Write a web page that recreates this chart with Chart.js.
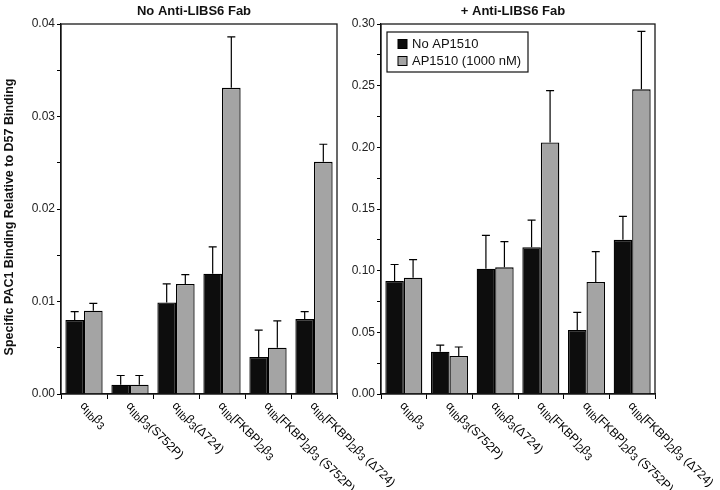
<!DOCTYPE html>
<html><head><meta charset="utf-8">
<script src="https://cdn.jsdelivr.net/npm/chart.js@4.4.1/dist/chart.umd.min.js"></script>
<style>
html,body{margin:0;padding:0;background:#fff;}
#wrap{position:relative;width:720px;height:490px;}
canvas{position:absolute;left:0;top:0;}
</style></head><body>
<div id="wrap"><canvas id="c1" width="720" height="490"></canvas><canvas id="c2" width="720" height="490"></canvas></div>
<script>
// {..} marks a subscript
const categories = ['α{IIb}β{3}', 'α{IIb}β{3}(S752P)', 'α{IIb}β{3}(Δ724)', 'α{IIb}[FKBP]{2}β{3}', 'α{IIb}[FKBP]{2}β{3} (S752P)', 'α{IIb}[FKBP]{2}β{3} (Δ724)'];
const seriesNames = ['No AP1510', 'AP1510 (1000 nM)'];
const panelTitles = ['No Anti-LIBS6 Fab', '+ Anti-LIBS6 Fab'];
const yAxisTitle = 'Specific PAC1 Binding Relative to D57 Binding';

// Left panel: No Anti-LIBS6 Fab
const noFabNoAP      = [0.0080, 0.0010, 0.0099, 0.0130, 0.0040, 0.0081];
const noFabNoAPErr   = [0.0009, 0.0010, 0.0020, 0.0029, 0.0029, 0.0008];
const noFabAP        = [0.0090, 0.0010, 0.0119, 0.0331, 0.0050, 0.0251];
const noFabAPErr     = [0.0008, 0.0010, 0.0010, 0.0055, 0.0029, 0.0019];
// Right panel: + Anti-LIBS6 Fab
const fabNoAP        = [0.0916, 0.0343, 0.1016, 0.1190, 0.0519, 0.1250];
const fabNoAPErr     = [0.0134, 0.0054, 0.0270, 0.0220, 0.0143, 0.0190];
const fabAP          = [0.0943, 0.0308, 0.1027, 0.2040, 0.0908, 0.2470];
const fabAPErr       = [0.0147, 0.0073, 0.0208, 0.0420, 0.0246, 0.0470];

const leftTicks  = {max: 0.04, step: 0.005};
const rightTicks = {max: 0.30, step: 0.025};

const FONT = '"Liberation Sans", Arial, Helvetica, sans-serif';
const COLORS = ['#0d0d0d', '#a4a4a4'];

function parseRich(s) {
  const parts = [];
  const re = /\{([^}]*)\}|([^{]+)/g;
  let m;
  while ((m = re.exec(s)) !== null) {
    if (m[1] !== undefined) parts.push({t: m[1], sub: true});
    else parts.push({t: m[2], sub: false});
  }
  return parts;
}
function plain(s) { return s.replace(/[{}]/g, ''); }

const panelPlugin = {
  id: 'panelDecor',
  afterDatasetsDraw(chart) {
    const ctx = chart.ctx;
    const y = chart.scales.y;
    // error bars
    ctx.save();
    ctx.strokeStyle = '#000';
    ctx.lineWidth = 1.2;
    chart.data.datasets.forEach((ds, di) => {
      const meta = chart.getDatasetMeta(di);
      meta.data.forEach((el, i) => {
        const top = y.getPixelForValue(ds.data[i] + ds.errors[i]);
        ctx.beginPath();
        ctx.moveTo(el.x, el.y);
        ctx.lineTo(el.x, top);
        ctx.moveTo(el.x - 4, top);
        ctx.lineTo(el.x + 4, top);
        ctx.stroke();
      });
    });
    ctx.restore();
  },
  afterDraw(chart) {
    const ctx = chart.ctx;
    const a = chart.chartArea;
    const o = chart.options.plugins.panelDecor;
    ctx.save();
    // frame
    ctx.strokeStyle = '#1a1a1a';
    ctx.lineWidth = 1.3;
    ctx.strokeRect(a.left, a.top, a.right - a.left, a.bottom - a.top);
    // panel title
    ctx.fillStyle = '#111';
    ctx.font = 'bold 13px ' + FONT;
    ctx.textAlign = 'center';
    ctx.textBaseline = 'middle';
    ctx.fillText(o.title, (a.left + a.right) / 2 - 5, 11);
    // y axis title
    if (o.yTitle) {
      ctx.save();
      ctx.translate(10, (a.top + a.bottom) / 2 + 8);
      ctx.rotate(-Math.PI / 2);
      ctx.font = 'bold 12.5px ' + FONT;
      ctx.fillStyle = '#111';
      ctx.textAlign = 'center';
      ctx.textBaseline = 'middle';
      ctx.fillText(o.yTitle, 0, 0);
      ctx.restore();
    }
    // rotated category labels
    const xs = chart.scales.x;
    chart.data.labels.forEach((lab, i) => {
      const cx = xs.getPixelForTick(i);
      ctx.save();
      ctx.translate(cx - 2, a.bottom + 10);
      ctx.rotate(Math.PI / 4);
      ctx.textAlign = 'left';
      ctx.textBaseline = 'middle';
      ctx.fillStyle = '#000';
      let px = 0;
      parseRich(o.richLabels[i]).forEach(p => {
        ctx.font = (p.sub ? '10.5px ' : '12px ') + FONT;
        ctx.fillText(p.t, px, p.sub ? 3 : 0);
        px += ctx.measureText(p.t).width;
      });
      ctx.restore();
    });
    // legend
    if (o.legend) {
      const lx = a.left + 6, ly = a.top + 8, lw = 141, lh = 40;
      ctx.fillStyle = '#fff';
      ctx.fillRect(lx, ly, lw, lh);
      ctx.strokeStyle = '#111';
      ctx.lineWidth = 1.2;
      ctx.strokeRect(lx, ly, lw, lh);
      chart.data.datasets.forEach((ds, di) => {
        const cy = ly + 12 + di * 17;
        ctx.fillStyle = ds.backgroundColor;
        ctx.fillRect(lx + 11, cy - 4.5, 9, 9);
        ctx.strokeStyle = '#000';
        ctx.lineWidth = 1;
        ctx.strokeRect(lx + 11, cy - 4.5, 9, 9);
        ctx.fillStyle = '#111';
        ctx.font = '13px ' + FONT;
        ctx.textAlign = 'left';
        ctx.textBaseline = 'middle';
        ctx.fillText(ds.label, lx + 25, cy + 0.5);
      });
    }
    ctx.restore();
  }
};

function makePanel(id, d1, e1, d2, e2, tk, layout) {
  return new Chart(document.getElementById(id), {
    type: 'bar',
    data: {
      labels: categories.map(plain),
      datasets: [
        {label: seriesNames[0], data: d1, errors: e1, backgroundColor: COLORS[0], borderColor: '#000', borderWidth: 1.3, barPercentage: 1, categoryPercentage: 0.81},
        {label: seriesNames[1], data: d2, errors: e2, backgroundColor: COLORS[1], borderColor: '#000', borderWidth: 1.3, barPercentage: 1, categoryPercentage: 0.81}
      ]
    },
    options: {
      responsive: false,
      animation: false,
      layout: {padding: layout.padding},
      plugins: {
        legend: {display: false},
        title: {display: false},
        tooltip: {enabled: false},
        panelDecor: {title: layout.title, richLabels: categories, legend: layout.legend, yTitle: layout.yTitle ? yAxisTitle : null}
      },
      scales: {
        x: {
          type: 'category',
          grid: {offset: true, drawOnChartArea: false, drawTicks: true, tickLength: 5, color: '#000', lineWidth: 1},
          border: {display: true, color: '#000', width: 1.2},
          ticks: {display: false},
          afterFit: s => { s.height = 96; }
        },
        y: {
          min: 0, max: tk.max,
          grid: {drawOnChartArea: false, tickLength: 4, color: '#000', lineWidth: 1},
          border: {display: true, color: '#000', width: 1.2},
          ticks: {
            stepSize: tk.step,
            autoSkip: false,
            color: '#222',
            font: {family: FONT, size: 12},
            padding: 2,
            callback: v => (Math.round(v / tk.step) % 2 === 0 ? v.toFixed(2) : '')
          },
          title: {display: false},
          afterFit: s => { s.width = layout.yWidth; }
        }
      }
    },
    plugins: [panelPlugin]
  });
}

makePanel('c1', noFabNoAP, noFabNoAPErr, noFabAP, noFabAPErr, leftTicks,
  {padding: {left: 0, right: 383, top: 24, bottom: 0}, yWidth: 61, yTitle: true, legend: false, title: panelTitles[0]});
makePanel('c2', fabNoAP, fabNoAPErr, fabAP, fabAPErr, rightTicks,
  {padding: {left: 340, right: 65, top: 24, bottom: 0}, yWidth: 41, yTitle: false, legend: true, title: panelTitles[1]});
</script>
</body></html>
